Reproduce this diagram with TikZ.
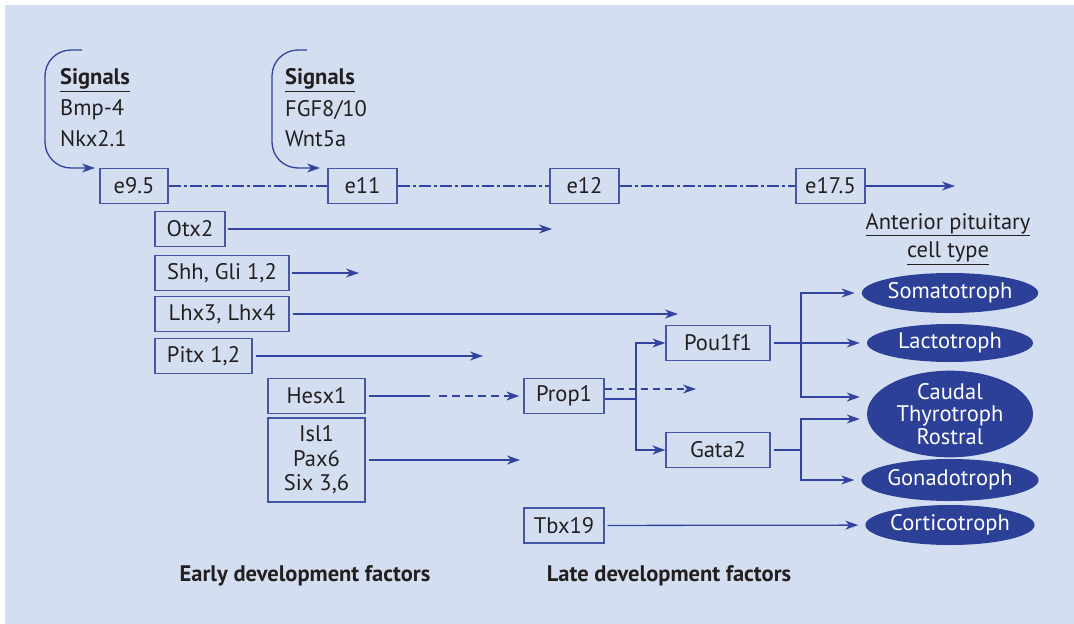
\documentclass[tikz,border=0pt]{standalone}
\usepackage{fontspec}
\setmainfont{PT Sans}
\usetikzlibrary{arrows.meta,shapes.geometric}
\definecolor{bg}{HTML}{D3DFF0}
\definecolor{ln}{HTML}{3343A0}
\definecolor{bx}{HTML}{4455AA}
\definecolor{ell}{HTML}{2C4097}
\definecolor{txt}{HTML}{231F20}
\begin{document}
\begin{tikzpicture}[x=1pt,y=-1pt,
  font=\fontsize{22.5}{24.5}\selectfont,
  box/.style={draw=bx, line width=1.3pt, text=txt, inner sep=0pt, minimum height=35pt},
  cell/.style={ellipse, fill=ell, text=white, inner sep=0pt, minimum width=166pt, minimum height=40pt},
  lab/.style={text=txt, inner sep=0pt},
  conn/.style={draw=ln, line width=1.3pt},
  arr/.style={conn, -{Stealth[length=13pt,width=9pt,inset=4pt]}},
  tline/.style={conn, dash pattern=on 12pt off 3pt on 3pt off 3pt},
]
\useasboundingbox (0,0) rectangle (1074,624);
\fill[white] (0,0) rectangle (1074,624);
\fill[bg] (5,5) rectangle (1074,624);

% signals
\node[lab, anchor=west] (s1) at (60,80) {\underline{\textbf{Signals}}};
\node[lab, anchor=west] (s1a) at (60,110) {Bmp-4};
\node[lab, anchor=west] (s1b) at (60,139) {Nkx2.1};
\node[lab, anchor=west] (s2) at (285,80) {\underline{\textbf{Signals}}};
\node[lab, anchor=west] (s2a) at (285,110) {FGF8/10};
\node[lab, anchor=west] (s2b) at (285,139) {Wnt5a};

% timeline
\node[box, minimum width=68pt] (e95) at (134,186) {e9.5};
\node[box, minimum width=69pt] (e11) at (362.5,186) {e11};
\node[box, minimum width=69pt] (e12) at (584.5,186) {e12};
\node[box, minimum width=69pt] (e175) at (830.5,186) {e17.5};
\coordinate (tend) at (955,186);
\coordinate (b1top) at (82,50);
\coordinate (b1end) at (95,168);
\coordinate (b2top) at (307,50);
\coordinate (b2end) at (320,168);
\draw[arr, rounded corners=26pt] (b1top) -- (45,50) -- (45,168) -- (b1end);
\draw[arr, rounded corners=26pt] (b2top) -- (272,50) -- (272,168) -- (b2end);
\draw[tline] (e95) -- (e11);
\draw[tline] (e11) -- (e12);
\draw[tline] (e12) -- (e175);
\draw[arr] (e175) -- (tend);

% early factors
\node[box, minimum width=70pt] (otx) at (190,229) {Otx2};
\node[box, minimum width=134pt] (shh) at (222,273) {Shh, Gli 1,2};
\node[box, minimum width=134pt] (lhx) at (222,314) {Lhx3, Lhx4};
\node[box, minimum width=97pt] (pitx) at (203.5,356) {Pitx 1,2};
\node[box, minimum width=97pt] (hesx) at (316.5,396) {Hesx1};
\node[box, minimum width=97pt, minimum height=84pt, align=center] (isl) at (316.5,460) {Isl1\\Pax6\\Six 3,6};
\coordinate (otxend) at (552,229);
\coordinate (shhend) at (359,273);
\coordinate (lhxend) at (678,314);
\coordinate (pitxend) at (483,356);
\coordinate (islend) at (520,460);
\coordinate (hesxmid) at (430,396);
\coordinate (hesxdash) at (439,396);
\draw[arr, shorten <=2pt] (otx) -- (otxend);
\draw[arr, shorten <=2pt] (shh) -- (shhend);
\draw[arr, shorten <=3pt] (lhx) -- (lhxend);
\draw[arr, shorten <=3pt] (pitx) -- (pitxend);
\draw[arr, shorten <=3pt] (isl) -- (islend);

% late factors
\node[box, minimum width=80pt] (prop) at (564,396) {Prop1};
\node[box, minimum width=104pt] (pou) at (718,343) {Pou1f1};
\node[box, minimum width=104pt] (gata) at (718,450) {Gata2};
\node[box, minimum width=80pt] (tbx) at (564,525.5) {Tbx19};
\draw[conn, shorten <=3pt] (hesx) -- (hesxmid);
\draw[arr, dash pattern=on 8pt off 5pt, shorten >=4pt] (hesxdash) -- (prop);
\coordinate (propdash) at (696,389);
\draw[arr, dash pattern=on 7pt off 5pt] ([yshift=7pt]prop.east) -- (propdash);
\coordinate (pb) at (636,399);
\draw[conn] ([yshift=-3pt]prop.east) -- (pb);
\draw[arr] (pb) |- (pou.west);
\draw[arr] (pb) |- (gata.west);

% cell types
\node[lab, align=center] (ant) at (948,239) {\underline{Anterior pituitary}\\[4pt]\underline{cell type}};
\node[cell] (soma) at (950,293) {Somatotroph};
\node[cell, minimum height=38pt] (lact) at (950,343) {Lactotroph};
\node[cell, minimum height=72pt, align=center, font=\fontsize{22.5}{22.5}\selectfont] (thyro) at (950,414) {Caudal\\Thyrotroph\\Rostral};
\node[cell, minimum height=42pt] (gona) at (950,480) {Gonadotroph};
\node[cell] (cort) at (950,525) {Corticotroph};

\coordinate (pbx) at (801,343);
\coordinate (gbx) at (801,450);
\draw[arr, shorten <=3pt, shorten >=7pt] (pou) -- (lact);
\draw[arr, shorten >=7pt] (pbx) |- (soma.west);
\draw[arr, shorten >=7pt] (pbx) |- ([yshift=17pt]thyro.west);
\draw[conn, shorten <=3pt] (gata) -- (gbx);
\draw[arr, shorten >=7pt] (gbx) |- ([yshift=-5pt]thyro.west);
\draw[arr, shorten >=7pt] (gbx) |- (gona.west);
\draw[arr, shorten <=3pt, shorten >=7pt] (tbx) -- (cort);

\node[lab, font=\fontsize{22.5}{24}\selectfont\bfseries] (early) at (305,576) {Early development factors};
\node[lab, font=\fontsize{22.5}{24}\selectfont\bfseries] (late) at (669,576) {Late development factors};
\end{tikzpicture}
\end{document}
